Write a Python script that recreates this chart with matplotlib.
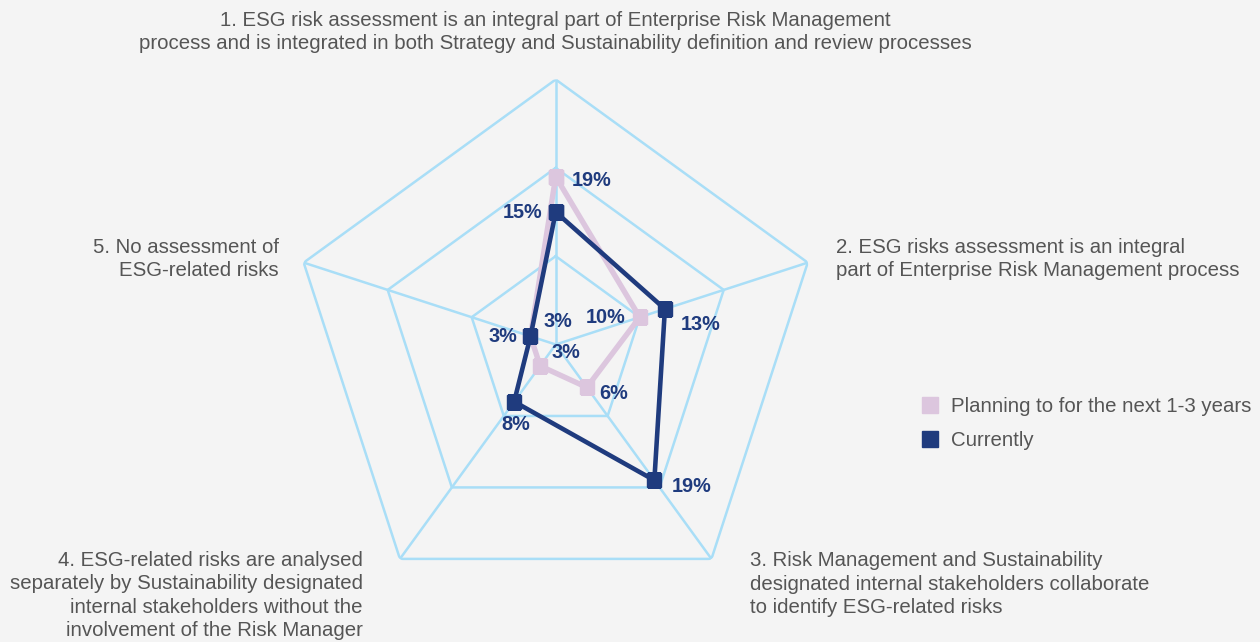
import numpy as np
import matplotlib
matplotlib.use("Agg")
import matplotlib.pyplot as plt
from matplotlib.lines import Line2D

categories = [
    "1. ESG risk assessment is an integral part of Enterprise Risk Management\nprocess and is integrated in both Strategy and Sustainability definition and review processes",
    "2. ESG risks assessment is an integral\npart of Enterprise Risk Management process",
    "3. Risk Management and Sustainability\ndesignated internal stakeholders collaborate\nto identify ESG-related risks",
    "4. ESG-related risks are analysed\nseparately by Sustainability designated\ninternal stakeholders without the\ninvolvement of the Risk Manager",
    "5. No assessment of\nESG-related risks",
]
planning = [19, 10, 6, 3, 3]
currently = [15, 13, 19, 8, 3]
series_names = ["Planning to for the next 1-3 years", "Currently"]
grid_levels = [10, 20, 30]

BG = "#f4f4f4"
GRID = "#a9def7"
C_CUR = "#1f3b7e"
C_PLAN = "#dcc6de"
TXT = "#555555"
FONT = "Liberation Sans"

W, H = 1260, 642
fig = plt.figure(figsize=(W / 100, H / 100), dpi=100, facecolor=BG)
plt.rcParams["font.family"] = FONT

def fx(x):
    return x / W

def fy(y):
    return 1 - y / H

cx, cy, R = 555.7, 344.5, 265.0
ax = fig.add_axes([fx(cx - R), fy(cy + R), 2 * R / W, 2 * R / H], projection="polar")
ax.set_facecolor("none")
ax.set_theta_offset(np.pi / 2)
ax.set_theta_direction(-1)
ax.set_ylim(0, grid_levels[-1])
ax.grid(False)
ax.spines["polar"].set_visible(False)
ax.set_xticks([])
ax.set_yticks([])

n = len(categories)
theta = np.arange(n) * 2 * np.pi / n
theta_c = np.append(theta, theta[0])

for lv in grid_levels:
    ax.plot(theta_c, [lv] * (n + 1), color=GRID, lw=1.8, zorder=1)
for t in theta:
    ax.plot([t, t], [0, grid_levels[-1]], color=GRID, lw=1.8, zorder=1)

p = planning + planning[:1]
c = currently + currently[:1]
ax.plot(theta_c, p, color=C_PLAN, lw=3.9, marker="s", ms=9.5, mec=C_PLAN, mfc=C_PLAN, zorder=3)
ax.plot(theta_c, c, color=C_CUR, lw=3.3, marker="s", ms=9.5, mec=C_CUR, mfc=C_CUR, zorder=4)

# value labels offsets: (dx, dy, ha)
lab_style = dict(color=C_CUR, fontsize=14.3, fontweight="bold", va="center",
                 textcoords="offset pixels", zorder=5)
plan_off = [(16, -4, "left"), (-14, 0, "right"), (12, -6, "left"), (11, 13, "left"), (13, 15, "left")]
cur_off = [(-13, 0, "right"), (16, -15, "left"), (17, -6, "left"), (2, -23, "center"), (-13, 0, "right")]
for i in range(n):
    dx, dy, ha = plan_off[i]
    ax.annotate(f"{planning[i]}%", (theta[i], planning[i]), xytext=(dx, dy), ha=ha, **lab_style)
    dx, dy, ha = cur_off[i]
    ax.annotate(f"{currently[i]}%", (theta[i], currently[i]), xytext=(dx, dy), ha=ha, **lab_style)

# category labels
cat_pos = [
    (555, 32, "center"),
    (836, 259, "left"),
    (750, 584, "left"),
    (363, 595.5, "right"),
    (279, 259, "right"),
]
for text, (x, y, ha) in zip(categories, cat_pos):
    fig.text(fx(x), fy(y), text, ha=ha, va="center", color=TXT, fontsize=14.7,
             linespacing=1.3, multialignment=ha)

handles = [
    Line2D([], [], ls="none", marker="s", ms=11, mfc=C_PLAN, mec=C_PLAN),
    Line2D([], [], ls="none", marker="s", ms=11, mfc=C_CUR, mec=C_CUR),
]
leg = fig.legend(handles, series_names, loc="upper left",
                 bbox_to_anchor=(fx(920), fy(397)), frameon=False,
                 fontsize=14.7, labelcolor=TXT, handlelength=1.0, handletextpad=0.5,
                 labelspacing=0.72, borderpad=0, borderaxespad=0)

fig.savefig("out.png", dpi=100, facecolor=BG)
